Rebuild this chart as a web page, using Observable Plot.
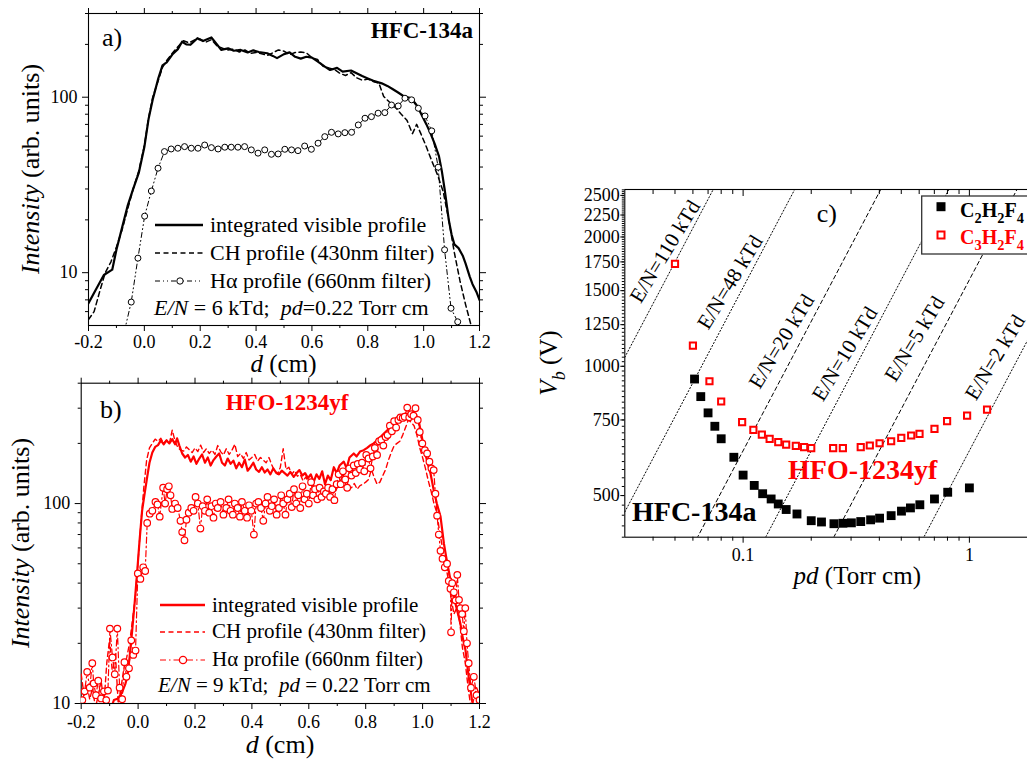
<!DOCTYPE html>
<html><head><meta charset="utf-8">
<script src="https://cdn.jsdelivr.net/npm/d3@7"></script>
<script src="https://cdn.jsdelivr.net/npm/@observablehq/plot@0.6"></script>
<style>
html,body{margin:0;padding:0;background:#fff;overflow:hidden}
#wrap{position:relative;width:1027px;height:760px;overflow:hidden;background:#fff;font-family:"Liberation Serif","Times New Roman",serif}
#wrap svg{position:absolute;overflow:visible;max-width:none}
#wrap svg text{font-family:"Liberation Serif","Times New Roman",serif}
</style></head><body><div id="wrap"></div>
<script>
// ---------- Panel a: HFC-134a, E/N = 6 kTd ----------
const aVisible = [[-0.20,6.7],[-0.17,8.2],[-0.145,9.7],[-0.115,10.4],[-0.10,13.5],[-0.08,18],[-0.06,24],[-0.04,30],[-0.02,37],[0.00,52],[0.015,75],[0.03,97],[0.05,128],[0.065,152],[0.08,158],[0.10,175],[0.12,188],[0.135,207],[0.15,200],[0.165,199],[0.19,217],[0.21,209],[0.24,219],[0.26,200],[0.275,186],[0.30,190],[0.32,184],[0.345,186],[0.37,180],[0.39,185],[0.41,181],[0.44,178],[0.46,172],[0.475,167],[0.50,176],[0.52,180],[0.54,170],[0.56,166],[0.58,170],[0.60,168],[0.62,160],[0.645,150],[0.665,143],[0.69,147],[0.71,140],[0.74,142],[0.76,137],[0.78,132],[0.80,128],[0.82,124],[0.85,120],[0.87,116],[0.89,111],[0.91,106],[0.93,101],[0.955,99],[0.975,90],[0.99,81],[1.01,70],[1.025,62],[1.04,54],[1.055,46],[1.065,38],[1.075,30],[1.09,20],[1.10,16.5],[1.11,14.5],[1.125,13.8],[1.14,12.5],[1.15,11.3],[1.165,9.5],[1.175,8.6],[1.19,7.7],[1.20,7.0]];
const aCH = [[-0.20,5.4],[-0.18,6.0],[-0.16,7.8],[-0.14,10],[-0.12,11.5],[-0.10,14],[-0.08,17.5],[-0.06,23],[-0.04,30],[-0.02,38],[0.00,53],[0.015,76],[0.03,100],[0.05,125],[0.065,148],[0.08,162],[0.10,178],[0.12,194],[0.14,210],[0.16,204],[0.18,212],[0.20,214],[0.22,206],[0.24,213],[0.26,196],[0.28,190],[0.30,186],[0.32,188],[0.34,181],[0.36,186],[0.38,178],[0.40,180],[0.42,177],[0.44,173],[0.46,179],[0.48,186],[0.50,183],[0.52,175],[0.54,180],[0.56,181],[0.58,179],[0.60,168],[0.62,164],[0.64,150],[0.66,147],[0.68,144],[0.70,137],[0.72,133],[0.74,138],[0.76,129],[0.78,125],[0.80,127],[0.82,123],[0.84,120],[0.857,101],[0.88,93],[0.90,87],[0.92,80],[0.94,74],[0.96,62],[0.975,70],[0.99,62],[1.01,52],[1.03,43],[1.05,36],[1.07,29],[1.09,20],[1.11,13],[1.13,9],[1.15,6.6],[1.17,5.0]];
const aHalpha = [[-0.047,6.8],[-0.023,12.1],[0.001,21.0],[0.025,29.2],[0.049,39.4],[0.072,49.0],[0.096,50.7],[0.120,51.2],[0.144,52.3],[0.168,51.2],[0.192,51.2],[0.216,53.4],[0.240,51.6],[0.264,50.7],[0.288,51.9],[0.311,51.9],[0.335,51.9],[0.359,52.3],[0.383,50.1],[0.407,48.0],[0.431,50.1],[0.455,47.3],[0.479,47.5],[0.503,50.5],[0.527,50.1],[0.550,49.6],[0.574,52.7],[0.598,50.5],[0.622,54.7],[0.646,59.6],[0.670,63.1],[0.694,61.8],[0.718,62.8],[0.742,63.1],[0.766,69.5],[0.790,75.9],[0.813,77.5],[0.837,81.1],[0.861,81.7],[0.885,90.3],[0.909,89.2],[0.933,98.7],[0.957,96.6],[0.981,86.5],[1.005,78.2],[1.029,64.3],[1.052,39.9],[1.075,13.5],[1.098,6.27],[1.122,5.25]];
const aHalphaEnds = [[-0.072,4.6],[1.136,4.4]];

// ---------- Panel b: HFO-1234yf, E/N = 9 kTd ----------
const bVisible = [[-0.095,9.5],[-0.085,10.4],[-0.07,10.6],[-0.056,11.4],[-0.045,12.5],[-0.038,13.6],[-0.03,17],[-0.021,23],[-0.012,32],[-0.003,46],[0.005,65],[0.014,92],[0.022,110],[0.032,136],[0.04,160],[0.05,180],[0.06,192],[0.07,196],[0.08,207],[0.09,198],[0.10,207],[0.11,200],[0.12,210],[0.13,198],[0.137,212],[0.145,195],[0.155,178],[0.165,170],[0.175,175],[0.185,162],[0.195,172],[0.205,158],[0.215,168],[0.225,176],[0.235,160],[0.245,170],[0.255,155],[0.265,165],[0.275,172],[0.285,178],[0.295,160],[0.305,155],[0.315,168],[0.325,158],[0.335,164],[0.345,150],[0.355,160],[0.365,152],[0.375,166],[0.385,146],[0.395,152],[0.405,160],[0.415,148],[0.425,144],[0.435,152],[0.445,143],[0.455,148],[0.465,140],[0.475,150],[0.485,143],[0.495,140],[0.505,146],[0.515,142],[0.525,138],[0.535,144],[0.547,136],[0.557,142],[0.567,147],[0.577,138],[0.587,142],[0.597,134],[0.607,140],[0.617,128],[0.627,140],[0.637,133],[0.647,145],[0.657,125],[0.667,138],[0.677,131],[0.688,152],[0.698,142],[0.708,155],[0.723,162],[0.733,150],[0.743,170],[0.758,178],[0.768,172],[0.78,182],[0.793,185],[0.805,190],[0.817,196],[0.828,200],[0.84,207],[0.852,215],[0.864,224],[0.875,232],[0.887,242],[0.9,255],[0.911,267],[0.925,275],[0.94,282],[0.955,278],[0.969,282],[0.978,272],[0.987,256],[0.995,225],[1.004,192],[1.015,165],[1.028,141],[1.039,117],[1.05,100],[1.063,86],[1.075,63],[1.083,54],[1.092,46],[1.10,40],[1.11,34],[1.122,29],[1.133,25],[1.142,21],[1.151,18.4],[1.157,15.5],[1.162,13.6],[1.168,11.8],[1.174,10.3],[1.18,9.5]];
const bCH = [[-0.20,14],[-0.19,11],[-0.18,12.5],[-0.17,10.5],[-0.16,12],[-0.15,9.5],[-0.14,11],[-0.13,13],[-0.12,10],[-0.11,16],[-0.10,21],[-0.09,14],[-0.08,18],[-0.07,10],[-0.06,12],[-0.05,15],[-0.04,17],[-0.03,20],[-0.02,26],[-0.01,34],[0.0,52],[0.01,80],[0.02,120],[0.03,165],[0.04,190],[0.05,200],[0.06,210],[0.07,205],[0.08,212],[0.09,200],[0.10,208],[0.11,200],[0.12,233],[0.13,205],[0.14,190],[0.15,185],[0.16,183],[0.17,192],[0.18,186],[0.19,180],[0.20,190],[0.21,182],[0.22,196],[0.23,180],[0.24,188],[0.25,178],[0.26,185],[0.27,176],[0.28,195],[0.29,182],[0.30,175],[0.31,188],[0.32,176],[0.33,185],[0.34,198],[0.35,172],[0.36,178],[0.37,168],[0.38,180],[0.39,165],[0.40,170],[0.41,176],[0.42,163],[0.43,170],[0.44,165],[0.45,160],[0.46,170],[0.47,156],[0.48,145],[0.49,140],[0.50,152],[0.51,188],[0.52,148],[0.53,152],[0.54,140],[0.55,146],[0.56,137],[0.57,140],[0.58,130],[0.59,136],[0.60,126],[0.61,130],[0.62,120],[0.63,124],[0.64,114],[0.65,118],[0.66,110],[0.67,114],[0.68,118],[0.69,113],[0.70,120],[0.71,128],[0.72,141],[0.73,125],[0.74,118],[0.75,120],[0.76,126],[0.77,118],[0.78,123],[0.79,125],[0.80,128],[0.81,132],[0.82,148],[0.83,135],[0.84,125],[0.85,128],[0.86,138],[0.87,148],[0.88,165],[0.89,180],[0.90,195],[0.91,200],[0.92,205],[0.93,220],[0.94,240],[0.95,262],[0.96,255],[0.97,245],[0.98,220],[0.99,190],[1.00,170],[1.01,150],[1.02,130],[1.03,115],[1.04,100],[1.05,90],[1.06,72],[1.07,60],[1.08,50],[1.09,42],[1.10,34],[1.11,28],[1.12,30],[1.13,26],[1.14,19],[1.15,16],[1.16,12],[1.17,9.5],[1.18,10.5],[1.19,12],[1.20,11]];
const bHalpha = [[-0.196,10.4],[-0.188,11.5],[-0.179,14.4],[-0.17,12],[-0.161,15.9],[-0.156,12.6],[-0.148,11],[-0.14,13],[-0.13,10.6],[-0.12,11.5],[-0.112,10.4],[-0.106,11.6],[-0.099,23.7],[-0.09,17],[-0.082,14],[-0.073,23.7],[-0.065,12],[-0.056,10.5],[-0.048,16.1],[-0.041,13.6],[-0.032,15],[-0.024,20.7],[-0.017,17.5],[-0.009,18.4],[-0.001,44.7],[0.008,42],[0.018,48],[0.025,46],[0.032,80],[0.041,89],[0.05,92],[0.061,102],[0.068,99],[0.076,86],[0.088,120],[0.095,100],[0.102,118],[0.108,122],[0.114,110],[0.12,94],[0.13,100],[0.139,95],[0.149,82],[0.155,72],[0.163,65.5],[0.17,83],[0.178,90],[0.187,95],[0.195,92],[0.202,108],[0.21,100],[0.219,75],[0.227,97],[0.235,92],[0.243,105],[0.25,90],[0.258,97],[0.265,85],[0.273,100],[0.28,95],[0.29,102],[0.3,88],[0.31,95],[0.318,105],[0.325,92],[0.333,88],[0.34,100],[0.35,95],[0.358,86],[0.365,102],[0.375,92],[0.383,85],[0.39,98],[0.398,92],[0.407,70],[0.415,100],[0.423,102],[0.432,95],[0.44,82],[0.448,100],[0.455,108],[0.463,92],[0.47,97],[0.478,105],[0.487,88],[0.495,95],[0.503,110],[0.51,100],[0.518,88],[0.525,105],[0.533,112],[0.54,96],[0.548,118],[0.556,100],[0.563,110],[0.57,95],[0.578,122],[0.585,105],[0.593,112],[0.6,100],[0.608,128],[0.615,110],[0.622,118],[0.63,105],[0.638,120],[0.645,108],[0.653,115],[0.66,112],[0.668,120],[0.675,108],[0.683,118],[0.69,104],[0.698,125],[0.705,140],[0.712,125],[0.72,145],[0.728,132],[0.735,120],[0.742,150],[0.75,138],[0.758,155],[0.765,142],[0.772,158],[0.78,148],[0.787,160],[0.795,145],[0.802,175],[0.81,168],[0.817,150],[0.825,172],[0.832,190],[0.84,175],[0.847,205],[0.855,208],[0.862,195],[0.87,215],[0.877,220],[0.885,245],[0.892,230],[0.9,258],[0.907,240],[0.915,262],[0.922,270],[0.93,268],[0.937,272],[0.946,302],[0.953,270],[0.96,280],[0.968,275],[0.975,300],[0.983,262],[0.99,228],[0.999,200],[1.008,185],[1.016,178],[1.024,162],[1.031,150],[1.039,147],[1.045,112],[1.051,87],[1.057,70],[1.063,58],[1.07,53],[1.078,48],[1.086,50],[1.092,41],[1.098,37.5],[1.1,22.7],[1.104,40],[1.11,36],[1.116,32.8],[1.122,44],[1.128,33],[1.133,30],[1.139,28],[1.145,23],[1.15,30],[1.156,20],[1.162,15.9],[1.17,12],[1.18,13.6],[1.19,11],[1.2,10.4]];

// ---------- Panel c: breakdown voltage vs pd ----------
const c2pd = [0.061,0.065,0.070,0.075,0.080,0.091,0.100,0.112,0.122,0.133,0.143,0.155,0.173,0.200,0.222,0.252,0.276,0.301,0.331,0.366,0.401,0.451,0.501,0.549,0.604,0.701,0.802,1.0];
const c2V  = [934,850,779,725,678,614,558,528,505,491,478,464,453,437,434,430,431,432,435,439,443,449,460,468,476,491,509,521];
const c3pd = [0.050,0.060,0.071,0.080,0.099,0.111,0.121,0.131,0.143,0.155,0.171,0.186,0.200,0.250,0.276,0.331,0.363,0.401,0.451,0.500,0.553,0.602,0.701,0.797,0.977,1.197];
const c3V  = [1731,1117,923,828,741,711,693,678,666,657,653,648,645,645,645,648,654,662,669,681,690,696,715,745,768,793];
const enValues = [110, 48, 20, 10, 5, 2];            // kTd
const enStyle  = ["dot", "dot", "dash", "dot", "dash", "dot"];
const enLabelPd = [0.0452, 0.0876, 0.148, 0.2815, 0.573, 1.30];
const enLabelV  = [1851, 1569, 1143, 1069, 1158, 1049];
const N0 = 3.18e16; // molecules per cm^3 per Torr

// tick values
const dTicks = [-0.2, 0, 0.2, 0.4, 0.6, 0.8, 1.0, 1.2];
const dMinor = [-0.1, 0.1, 0.3, 0.5, 0.7, 0.9, 1.1];
const aYTicks = [10, 100];
const aYMinor = [6, 7, 8, 9, 20, 30, 40, 50, 60, 70, 80, 90, 200, 300];
const bYTicks = [10, 100];
const bYMinor = [20, 30, 40, 50, 60, 70, 80, 90, 200, 300, 400];
const pdTicks = [0.1, 1];
const pdMinor = [0.04, 0.05, 0.06, 0.07, 0.08, 0.09, 0.2, 0.3, 0.4, 0.5, 0.6, 0.7, 0.8, 0.9, 2];
const vTicks = [500, 750, 1000, 1250, 1500, 1750, 2000, 2250, 2500];
const vMinor = d3.range(400, 2576, 25);

const FONT = '"Liberation Serif","Times New Roman",serif';
const FF = "Liberation Serif";
const RED = "#ff0000";
const wrap = document.getElementById("wrap");
const X = d => d[0], Y = d => d[1];
const blank = () => "";

function place(svg, left, top) {
  svg.style.left = left + "px"; svg.style.top = top + "px";
  svg.style.maxWidth = "none"; svg.style.overflow = "visible";
  wrap.appendChild(svg);
  return svg;
}
function txt(svg, x, y, parts, o = {}) {
  const size = o.size || 20;
  const t = d3.select(svg).append("text").attr("x", x).attr("y", y)
    .attr("font-size", size).attr("fill", o.fill || "black")
    .attr("text-anchor", o.anchor || "start").attr("font-family", FONT)
    .style("white-space", "pre");
  if (o.weight) t.attr("font-weight", o.weight);
  if (o.rotate) t.attr("transform", `rotate(${o.rotate},${x},${y})`);
  let shifted = 0;
  for (const p of parts) {
    const s = typeof p === "string" ? {t: p} : p;
    const ts = t.append("tspan").text(s.t);
    if (s.i) ts.attr("font-style", "italic");
    const want = s.sub ? size * 0.3 : 0;
    if (want !== shifted) { ts.attr("dy", want - shifted); shifted = want; }
    if (s.sub) ts.attr("font-size", size * 0.72);
  }
  return t;
}
function legendLine(svg, x1, x2, y, stroke, width, dash) {
  const l = d3.select(svg).append("line").attr("x1", x1).attr("x2", x2).attr("y1", y).attr("y2", y)
    .attr("stroke", stroke).attr("stroke-width", width);
  if (dash) l.attr("stroke-dasharray", dash);
}
function frameAxes(xT, xM, yT, yM, fs, xFmt, pad) {
  return [
    Plot.axisX({ticks: xT, tickSize: 6, tickPadding: pad, tickFormat: xFmt, fontSize: fs, fontFamily: FF, label: null}),
    Plot.axisX({ticks: xM, tickSize: 3, tickFormat: blank, label: null}),
    Plot.axisX({anchor: "top", ticks: xT, tickSize: 6, tickFormat: blank, label: null}),
    Plot.axisX({anchor: "top", ticks: xM, tickSize: 3, tickFormat: blank, label: null}),
    Plot.axisY({ticks: yT, tickSize: 6, tickPadding: 5, tickFormat: d3.format("d"), fontSize: fs, fontFamily: FF, label: null}),
    Plot.axisY({ticks: yM, tickSize: 3, tickFormat: blank, label: null}),
    Plot.axisY({anchor: "right", ticks: yT, tickSize: 6, tickFormat: blank, label: null}),
    Plot.axisY({anchor: "right", ticks: yM, tickSize: 3, tickFormat: blank, label: null}),
    Plot.frame({stroke: "black", strokeWidth: 1.1})
  ];
}
const DASH_CH = "5,3.5";
const DASH_HA_A = "5,3,1,3,1,3";
const DASH_HA_B = "6,3,1.5,3";

// ---------- a ----------
const pa = place(Plot.plot({
  width: 500, height: 375, marginLeft: 88, marginRight: 21, marginTop: 13, marginBottom: 50,
  style: {fontFamily: FONT, background: "none", color: "black"},
  x: {domain: [-0.2, 1.2]},
  y: {type: "log", domain: [5, 300]},
  marks: [
    ...frameAxes(dTicks, dMinor, aYTicks, aYMinor, 18, d => d.toFixed(1), 4),
    Plot.line([aHalphaEnds[0], ...aHalpha, aHalphaEnds[1]], {x: X, y: Y, stroke: "black", strokeWidth: 1, strokeDasharray: DASH_HA_A, clip: true}),
    Plot.line(aCH, {x: X, y: Y, stroke: "black", strokeWidth: 1.5, strokeDasharray: DASH_CH, clip: true}),
    Plot.line(aVisible, {x: X, y: Y, stroke: "black", strokeWidth: 2.2, clip: true}),
    Plot.dot(aHalpha, {x: X, y: Y, r: 3, stroke: "black", fill: "white", strokeWidth: 1, clip: true})
  ]
}), 0, 0);
txt(pa, 102, 46, ["a)"], {size: 26});
txt(pa, 473, 38, ["HFC-134a"], {size: 23, weight: "bold", anchor: "end"});
txt(pa, 283.5, 372, [{t: "d", i: true}, " (cm)"], {size: 25, anchor: "middle"});
txt(pa, 39, 169, [{t: "Intensity", i: true}, " (arb. units)"], {size: 26, anchor: "middle", rotate: -90});
legendLine(pa, 155, 203, 225, "black", 2.4);
legendLine(pa, 155, 203, 253, "black", 1.5, DASH_CH);
legendLine(pa, 155, 203, 281, "black", 1, DASH_HA_A);
d3.select(pa).append("circle").attr("cx", 180).attr("cy", 281).attr("r", 3.2).attr("fill", "white").attr("stroke", "black");
txt(pa, 210, 232, ["integrated visible profile"], {size: 22});
txt(pa, 210, 260, ["CH profile (430nm filter)"], {size: 22});
txt(pa, 210, 288, ["H\u03b1 profile (660nm filter)"], {size: 22});
txt(pa, 154, 315, [{t: "E/N", i: true}, " = 6 kTd;  ", {t: "pd", i: true}, "=0.22 Torr cm"], {size: 22});

// ---------- b ----------
const pb = place(Plot.plot({
  width: 500, height: 390, marginLeft: 80.7, marginRight: 21, marginTop: 12.7, marginBottom: 57,
  style: {fontFamily: FONT, background: "none", color: "black"},
  x: {domain: [-0.2, 1.2]},
  y: {type: "log", domain: [10, 400]},
  marks: [
    ...frameAxes(dTicks, dMinor, bYTicks, bYMinor, 18, d => d.toFixed(1), 6),
    Plot.line(bHalpha, {x: X, y: Y, stroke: RED, strokeWidth: 1.2, strokeDasharray: DASH_HA_B, clip: true}),
    Plot.line(bCH, {x: X, y: Y, stroke: RED, strokeWidth: 1.4, strokeDasharray: DASH_CH, clip: true}),
    Plot.line(bVisible, {x: X, y: Y, stroke: RED, strokeWidth: 2.2, clip: true}),
    Plot.dot(bHalpha, {x: X, y: Y, r: 3.3, stroke: RED, fill: "white", strokeWidth: 1.2, clip: true})
  ]
}), 0, 370);
txt(pb, 100, 48, ["b)"], {size: 26});
txt(pb, 287, 40, ["HFO-1234yf"], {size: 23, weight: "bold", anchor: "middle", fill: RED});
txt(pb, 280, 383, [{t: "d", i: true}, " (cm)"], {size: 26, anchor: "middle"});
txt(pb, 29, 173, [{t: "Intensity", i: true}, " (arb. units)"], {size: 26, anchor: "middle", rotate: -90});
legendLine(pb, 160, 205, 235, RED, 2.6);
legendLine(pb, 160, 205, 262, RED, 1.4, DASH_CH);
legendLine(pb, 160, 205, 290, RED, 1.2, DASH_HA_B);
d3.select(pb).append("circle").attr("cx", 183).attr("cy", 290).attr("r", 3.6).attr("fill", "white").attr("stroke", RED).attr("stroke-width", 1.3);
txt(pb, 212, 242, ["integrated visible profile"], {size: 21});
txt(pb, 212, 268, ["CH profile (430nm filter)"], {size: 21});
txt(pb, 212, 296, ["H\u03b1 profile (660nm filter)"], {size: 21});
txt(pb, 158, 322, [{t: "E/N", i: true}, " = 9 kTd;  ", {t: "pd", i: true}, " = 0.22 Torr cm"], {size: 21});

// ---------- c ----------
const enLines = enValues.flatMap((en, i) =>
  [0.03, 3].map(pd => ({en, style: enStyle[i], pd, V: en * 1e3 * 1e-17 * N0 * pd})));
const enLabels = enValues.map((en, i) => ({pd: enLabelPd[i], V: enLabelV[i], label: `E/N=${en} kTd`}));
const c2 = c2pd.map((pd, i) => ({pd, V: c2V[i]}));
const c3 = c3pd.map((pd, i) => ({pd, V: c3V[i]}));

const pc = place(Plot.plot({
  width: 520, height: 430, marginLeft: 94.3, marginRight: 13, marginTop: 19, marginBottom: 63.3,
  style: {fontFamily: FONT, background: "none", color: "black"},
  x: {type: "log", domain: [0.03, 2]},
  y: {type: "log", domain: [400, 2580]},
  marks: [
    Plot.axisX({ticks: pdTicks, tickSize: 6, tickPadding: 5, tickFormat: d => String(d), fontSize: 18, fontFamily: FF, label: null}),
    Plot.axisX({ticks: pdMinor, tickSize: 4, tickFormat: blank, label: null}),
    Plot.axisX({anchor: "top", ticks: pdTicks, tickSize: -6, tickFormat: blank, label: null}),
    Plot.axisX({anchor: "top", ticks: pdMinor, tickSize: -4, tickFormat: blank, label: null}),
    Plot.axisY({ticks: vTicks, tickSize: 4, tickPadding: 1, tickFormat: d3.format("d"), fontSize: 18, fontFamily: FF, label: null}),
    Plot.axisY({ticks: vMinor, tickSize: 2.5, tickFormat: blank, label: null}),
    Plot.line(enLines.filter(d => d.style === "dot"), {x: "pd", y: "V", z: "en", stroke: "black", strokeWidth: 1, strokeDasharray: "1.2,2.2", clip: true}),
    Plot.line(enLines.filter(d => d.style === "dash"), {x: "pd", y: "V", z: "en", stroke: "black", strokeWidth: 1, strokeDasharray: "4,3", clip: true}),
    Plot.text(enLabels, {x: "pd", y: "V", text: "label", rotate: -58.5, fontSize: 21, fontFamily: FF, textAnchor: "middle", fill: "black"}),
    Plot.dot(c2, {x: "pd", y: "V", symbol: "square", r: 5, fill: "black", stroke: "none"}),
    Plot.dot(c3, {x: "pd", y: "V", symbol: "square", r: 3.5, fill: "white", stroke: RED, strokeWidth: 2}),
    Plot.frame({stroke: "black", strokeWidth: 1.1})
  ]
}), 530, 170);
// legend box
d3.select(pc).append("rect").attr("x", 391.7).attr("y", 26).attr("width", 200).attr("height", 58)
  .attr("fill", "white").attr("stroke", "#333").attr("stroke-width", 1.3);
d3.select(pc).append("rect").attr("x", 406.5).attr("y", 32.2).attr("width", 9).attr("height", 9).attr("fill", "black");
d3.select(pc).append("rect").attr("x", 407.5).attr("y", 61.5).attr("width", 7).attr("height", 7).attr("fill", "white").attr("stroke", RED).attr("stroke-width", 2);
txt(pc, 430, 47, ["C", {t: "2", sub: true}, "H", {t: "2", sub: true}, "F", {t: "4", sub: true}], {size: 20, weight: "bold"});
txt(pc, 430, 74, ["C", {t: "3", sub: true}, "H", {t: "2", sub: true}, "F", {t: "4", sub: true}], {size: 20, weight: "bold", fill: RED});
txt(pc, 286.7, 52, ["c)"], {size: 26});
txt(pc, 102, 351, ["HFC-134a"], {size: 28, weight: "bold"});
txt(pc, 258, 309, ["HFO-1234yf"], {size: 28, weight: "bold", fill: RED});
txt(pc, 327.3, 414, [{t: "pd", i: true}, " (Torr cm)"], {size: 25, anchor: "middle"});
txt(pc, 27, 193, [{t: "V", i: true}, {t: "b", i: true, sub: true}, " (V)"], {size: 25, anchor: "middle", rotate: -90});
</script></body></html>
